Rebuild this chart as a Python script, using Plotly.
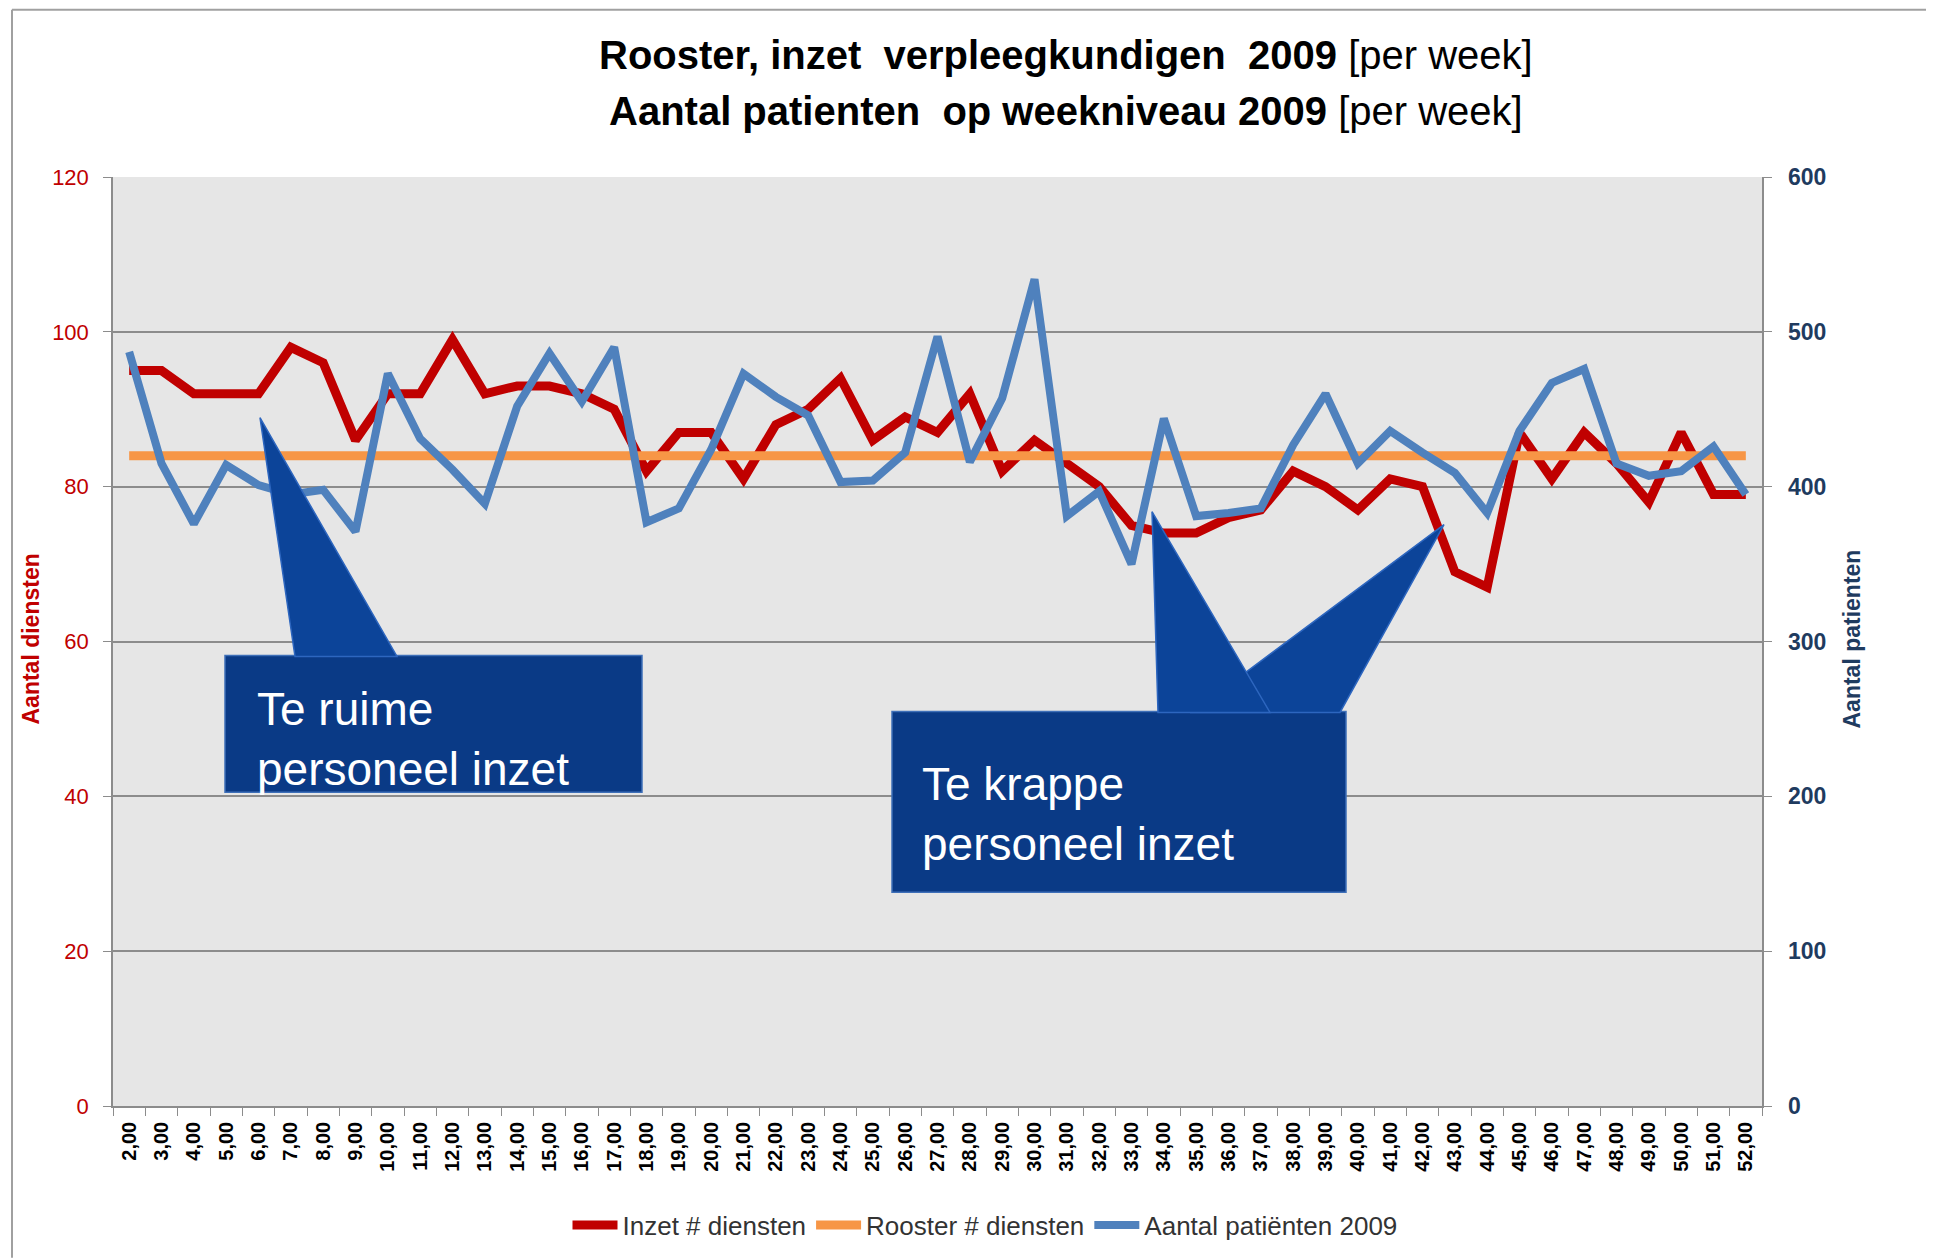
import plotly.graph_objects as go

weeks = ["2,00", "3,00", "4,00", "5,00", "6,00", "7,00", "8,00", "9,00", "10,00", "11,00",
         "12,00", "13,00", "14,00", "15,00", "16,00", "17,00", "18,00", "19,00", "20,00", "21,00",
         "22,00", "23,00", "24,00", "25,00", "26,00", "27,00", "28,00", "29,00", "30,00", "31,00",
         "32,00", "33,00", "34,00", "35,00", "36,00", "37,00", "38,00", "39,00", "40,00", "41,00",
         "42,00", "43,00", "44,00", "45,00", "46,00", "47,00", "48,00", "49,00", "50,00", "51,00",
         "52,00"]

inzet_diensten = [95, 95, 92, 92, 92, 98, 96, 86, 92, 92,
                  99, 92, 93, 93, 92, 90, 82, 87, 87, 81,
                  88, 90, 94, 86, 89, 87, 92, 82, 86, 83,
                  80, 75, 74, 74, 76, 77, 82, 80, 77, 81,
                  80, 69, 67, 87, 81, 87, 83, 78, 87, 79,
                  79]

rooster_diensten = [84, 84, 84, 84, 84, 84, 84, 84, 84, 84,
                    84, 84, 84, 84, 84, 84, 84, 84, 84, 84,
                    84, 84, 84, 84, 84, 84, 84, 84, 84, 84,
                    84, 84, 84, 84, 84, 84, 84, 84, 84, 84,
                    84, 84, 84, 84, 84, 84, 84, 84, 84, 84,
                    84]

aantal_patienten = [487, 415, 376, 414, 401, 395, 398, 371, 473, 431,
                    411, 389, 452, 486, 455, 490, 377, 386, 424, 473,
                    458, 446, 403, 404, 422, 497, 416, 457, 534, 381,
                    397, 350, 444, 381, 383, 386, 427, 460, 415, 436,
                    422, 409, 383, 436, 467, 476, 415, 407, 410, 426,
                    395]

right_ticks = [0, 100, 200, 300, 400, 500, 600]

W, H = 1934, 1259          # page size
OFF = 8                    # default body margin of the page
L, R, T, B = 113, 1762, 177, 1107   # plot area in page pixels
FW, FH = W - OFF, H - OFF


def px(x):
    return (x - L) / (R - L)


def py(y):
    return (B - y) / (B - T)


SANS = "Liberation Sans, Arial, sans-serif"

fig = go.Figure()
fig.add_trace(go.Scatter(x=weeks, y=inzet_diensten, mode="lines", name="Inzet # diensten",
                         line=dict(color="#C00000", width=9)))
fig.add_trace(go.Scatter(x=weeks, y=rooster_diensten, mode="lines", name="Rooster # diensten",
                         line=dict(color="#F79646", width=9)))
fig.add_trace(go.Scatter(x=weeks, y=aantal_patienten, mode="lines", name="Aantal patiënten 2009",
                         line=dict(color="#4F81BD", width=8), yaxis="y2"))

shapes = []
# figure frame (top and left)
shapes.append(dict(type="line", xref="paper", yref="paper", x0=px(12), x1=px(W), y0=py(9.5), y1=py(9.5),
                   line=dict(color="#A0A0A0", width=2), layer="above"))
shapes.append(dict(type="line", xref="paper", yref="paper", x0=px(12), x1=px(12), y0=py(9.5), y1=py(H),
                   line=dict(color="#A0A0A0", width=2), layer="above"))


def poly(pts, fill, line):
    d = "M " + " L ".join(f"{px(x):.5f},{py(y):.5f}" for x, y in pts) + " Z"
    return dict(type="path", xref="paper", yref="paper", path=d, fillcolor=fill,
                line=dict(color=line, width=1.5), layer="above")


BOX = "#0A3A86"
WEDGE = "#0C4499"
# callout 1
shapes.append(poly([(225, 656), (642, 656), (642, 793), (225, 793)], BOX, "#3E6FB8"))
shapes.append(poly([(260, 418), (397, 657), (295, 657)], WEDGE, "#2D66BF"))
# callout 2
shapes.append(poly([(892, 712), (1346, 712), (1346, 893), (892, 893)], BOX, "#3E6FB8"))
shapes.append(poly([(1444, 525), (1340, 713), (1192, 713)], WEDGE, "#2D66BF"))
shapes.append(poly([(1152, 512), (1270, 713), (1158, 713)], WEDGE, "#2D66BF"))

annotations = [
    dict(text="<b>Rooster, inzet\u00a0\u00a0verpleegkundigen\u00a0\u00a02009</b> [per week]",
         x=px(1066), y=py(55), xref="paper", yref="paper", showarrow=False,
         xanchor="center", yanchor="middle", font=dict(family=SANS, size=40, color="#000000")),
    dict(text="<b>Aantal patienten\u00a0\u00a0op weekniveau 2009</b> [per week]",
         x=px(1066), y=py(111), xref="paper", yref="paper", showarrow=False,
         xanchor="center", yanchor="middle", font=dict(family=SANS, size=40, color="#000000")),
    dict(text="<b>Aantal diensten</b>", x=px(31), y=py(640), xref="paper", yref="paper",
         showarrow=False, textangle=-90, xanchor="center", yanchor="middle",
         font=dict(family=SANS, size=23, color="#C00000")),
    dict(text="<b>Aantal patienten</b>", x=px(1852), y=py(640), xref="paper", yref="paper",
         showarrow=False, textangle=-90, xanchor="center", yanchor="middle",
         font=dict(family=SANS, size=23, color="#1F3B5F")),
    dict(text="Te ruime<br>personeel inzet", x=px(255), y=py(740), xref="paper", yref="paper",
         showarrow=False, xanchor="left", yanchor="middle", align="left",
         font=dict(family=SANS, size=46, color="#FFFFFF")),
    dict(text="Te krappe<br>personeel inzet", x=px(920), y=py(815), xref="paper", yref="paper",
         showarrow=False, xanchor="left", yanchor="middle", align="left",
         font=dict(family=SANS, size=46, color="#FFFFFF")),
]
# right axis tick labels, placed on the secondary axis scale
for v in right_ticks:
    annotations.append(dict(text=f"<b>{v}</b>", x=px(1786), y=v, xref="paper", yref="y2",
                            showarrow=False, xanchor="left", yanchor="middle",
                            font=dict(family=SANS, size=23, color="#1F3B5F")))

fig.update_layout(
    width=FW, height=FH,
    margin=dict(l=L - OFF, r=FW - (R - OFF), t=T - OFF, b=FH - (B - OFF), pad=0),
    paper_bgcolor="#FFFFFF",
    plot_bgcolor="#E6E6E6",
    showlegend=True,
    legend=dict(orientation="h", x=px(985), xanchor="center", y=py(1225), yanchor="middle",
                font=dict(family=SANS, size=26, color="#333333"), bgcolor="rgba(0,0,0,0)",
                itemwidth=45, tracegroupgap=0),
    xaxis=dict(type="category", tickangle=-90, showgrid=False, showline=True,
               linecolor="#8C8C8C", linewidth=1.5, ticks="outside", tickson="boundaries",
               ticklen=8, tickcolor="#8C8C8C", ticklabelstandoff=6,
               tickfont=dict(family=SANS, size=20, color="#000000", weight="bold"),
               range=[-0.5, len(weeks) - 0.5]),
    yaxis=dict(range=[0, 120], dtick=20, showgrid=True, gridcolor="#8C8C8C", gridwidth=1.5,
               showline=True, linecolor="#8C8C8C", linewidth=1.5, ticks="outside", ticklen=8,
               tickcolor="#8C8C8C", zeroline=False, ticklabelstandoff=10,
               tickfont=dict(family=SANS, size=22, color="#C00000")),
    yaxis2=dict(range=[0, 600], tickvals=right_ticks, overlaying="y", side="right", showgrid=False,
                showline=True, linecolor="#8C8C8C", linewidth=1.5, ticks="outside", ticklen=8,
                tickcolor="#8C8C8C", zeroline=False, showticklabels=False),
    shapes=shapes,
    annotations=annotations,
)

fig.write_html("out.html")
